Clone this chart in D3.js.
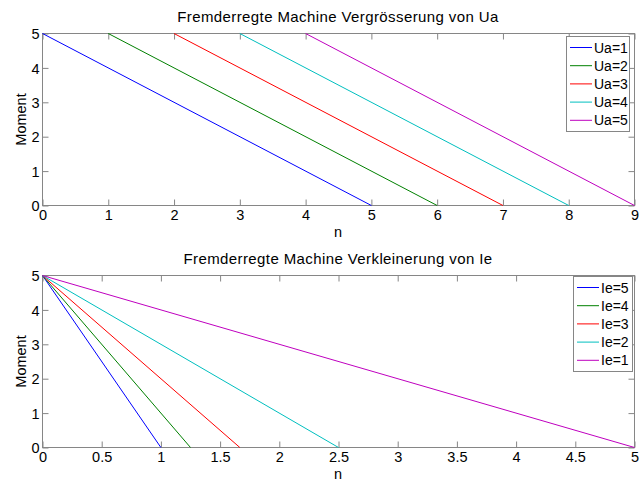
<!DOCTYPE html>
<html>
<head>
<meta charset="utf-8">
<script src="https://cdn.jsdelivr.net/npm/d3@7"></script>
<style>
  body { margin: 0; background: #fff; }
  svg { font-family: "Liberation Sans", Arial, sans-serif; }
  .box { fill: none; stroke: #868686; stroke-width: 1; }
  .tick line { stroke: #868686; }
  .tick text { fill: #000; font-size: 14.5px; }
  .domain { display: none; }
</style>
</head>
<body>
<svg id="chart" width="642" height="484"></svg>
<script>
// top plot: Ua increases, lines shift right
var uaLabels = ['Ua=1', 'Ua=2', 'Ua=3', 'Ua=4', 'Ua=5'];
var uaStart = [0, 1, 2, 3, 4];
var uaEnd = [5, 6, 7, 8, 9];
var uaTicksX = [0, 1, 2, 3, 4, 5, 6, 7, 8, 9];

// bottom plot: Ie decreases, lines fan out from (0,5)
var ieLabels = ['Ie=5', 'Ie=4', 'Ie=3', 'Ie=2', 'Ie=1'];
var ieEnd = [1, 1.25, 1.6667, 2.5, 5];
var ieTicksX = [0, 0.5, 1, 1.5, 2, 2.5, 3, 3.5, 4, 4.5, 5];

var momentTicks = [0, 1, 2, 3, 4, 5];
var colors = ['#0000ff', '#008000', '#ff0000', '#00bfbf', '#bf00bf'];

var svg = d3.select('#chart');

function drawPanel(opts) {
  var x = d3.scaleLinear().domain(opts.xDomain).range([42.5, 634.5]),
      y = d3.scaleLinear().domain([0, 5]).range([opts.bottom, opts.top]),
      g = svg.append('g'),
      tickLen = 6,
      fmt = d3.format('');

  var xAxis = g.append('g')
    .attr('class', 'axis')
    .attr('transform', `translate(0,${opts.bottom})`)
    .call(d3.axisBottom(x).tickValues(opts.xTicks).tickSizeInner(-tickLen).tickSizeOuter(0).tickPadding(4).tickFormat(fmt));
  xAxis.selectAll('text').attr('dy', '0.72em');

  g.append('g')
    .attr('class', 'axis')
    .attr('transform', `translate(0,${opts.top})`)
    .call(d3.axisTop(x).tickValues(opts.xTicks).tickSizeInner(-tickLen).tickSizeOuter(0).tickFormat(''));

  var yAxis = g.append('g')
    .attr('class', 'axis')
    .attr('transform', 'translate(42.5,0)')
    .call(d3.axisLeft(y).tickValues(momentTicks).tickSizeInner(-tickLen).tickSizeOuter(0).tickPadding(3).tickFormat(fmt));
  yAxis.selectAll('text').attr('dy', '0.36em');

  g.append('g')
    .attr('class', 'axis')
    .attr('transform', 'translate(634.5,0)')
    .call(d3.axisRight(y).tickValues(momentTicks).tickSizeInner(-tickLen).tickSizeOuter(0).tickFormat(''));

  g.append('rect').attr('class', 'box')
    .attr('x', 42.5).attr('y', opts.top)
    .attr('width', 592).attr('height', opts.bottom - opts.top);

  g.selectAll('line.series')
    .data(opts.segments)
    .enter()
    .append('line')
    .attr('class', 'series')
    .attr('x1', function(d) { return x(d[0][0]); })
    .attr('y1', function(d) { return y(d[0][1]); })
    .attr('x2', function(d) { return x(d[1][0]); })
    .attr('y2', function(d) { return y(d[1][1]); })
    .style('stroke', function(d, i) { return colors[i]; })
    .style('stroke-width', 1);

  g.append('text')
    .attr('x', 338).attr('y', opts.top - 12)
    .attr('text-anchor', 'middle')
    .style('font-size', '15px')
    .style('letter-spacing', '0.4px')
    .text(opts.title);
  g.append('text')
    .attr('x', 338).attr('y', opts.bottom + 31)
    .attr('text-anchor', 'middle')
    .style('font-size', '14.5px')
    .text('n');
  g.append('text')
    .attr('transform', `translate(26,${(opts.top + opts.bottom) / 2}) rotate(-90)`)
    .attr('text-anchor', 'middle')
    .style('font-size', '14.5px')
    .text('Moment');

  // legend
  var lg = g.append('g').attr('transform', `translate(${opts.legend[0]},${opts.legend[1]})`);
  lg.append('rect')
    .attr('x', 0.5).attr('y', 0.5)
    .attr('width', opts.legend[2]).attr('height', 95)
    .style('fill', '#fff').style('stroke', '#868686');
  var item = lg.selectAll('g.item')
    .data(opts.labels)
    .enter()
    .append('g')
    .attr('class', 'item')
    .attr('transform', function(d, i) { return `translate(0,${11.5 + i * 18.2})`; });
  item.append('line')
    .attr('x1', 4).attr('x2', 26)
    .style('stroke', function(d, i) { return colors[i]; });
  item.append('text')
    .attr('x', 28).attr('dy', '0.36em')
    .style('font-size', '14px')
    .text(function(d) { return d; });
}

drawPanel({
  top: 33.5, bottom: 205.5,
  xDomain: [0, 9], xTicks: uaTicksX,
  title: 'Fremderregte Machine Vergrösserung von Ua',
  labels: uaLabels,
  segments: uaStart.map(function(s, i) { return [[s, 5], [uaEnd[i], 0]]; }),
  legend: [566, 36, 63]
});

drawPanel({
  top: 275.5, bottom: 447.5,
  xDomain: [0, 5], xTicks: ieTicksX,
  title: 'Fremderregte Machine Verkleinerung von Ie',
  labels: ieLabels,
  segments: ieEnd.map(function(e) { return [[0, 5], [e, 0]]; }),
  legend: [573, 276, 59]
});
</script>
</body>
</html>
